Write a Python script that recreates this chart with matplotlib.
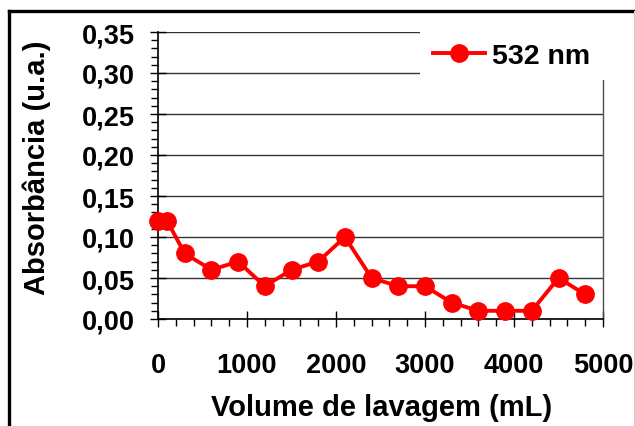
import matplotlib
matplotlib.use("Agg")
import matplotlib.pyplot as plt
from matplotlib.patches import Rectangle
from matplotlib.lines import Line2D
from matplotlib.ticker import MultipleLocator, FuncFormatter

volume = [0, 100, 300, 600, 900, 1200, 1500, 1800, 2100, 2400, 2700, 3000,
          3300, 3600, 3900, 4200, 4500, 4800]
absorb = [0.12, 0.12, 0.08, 0.06, 0.07, 0.04, 0.06, 0.07, 0.10, 0.05, 0.04,
          0.04, 0.02, 0.01, 0.01, 0.01, 0.05, 0.03]
series_label = "532 nm"
xlabel = "Volume de lavagem (mL)"
ylabel = "Absorbância (u.a.)"

plt.rcParams['font.family'] = ['Liberation Sans', 'DejaVu Sans']
plt.rcParams['font.weight'] = 'bold'

fig = plt.figure(figsize=(6.35, 4.27), dpi=100)
ax = fig.add_axes([158/635, 107/427, 445/635, 287/427])

ax.plot(volume, absorb, color='#ff0000', lw=2.8, marker='o', ms=12.5,
        label=series_label, zorder=3, clip_on=False)

ax.set_xlim(0, 5000)
ax.set_ylim(0, 0.35)
ax.xaxis.set_major_locator(MultipleLocator(1000))
ax.xaxis.set_minor_locator(MultipleLocator(200))
ax.yaxis.set_major_locator(MultipleLocator(0.05))
ax.yaxis.set_minor_locator(MultipleLocator(0.01))
ax.yaxis.set_major_formatter(FuncFormatter(lambda v, p: f"{v:.2f}".replace('.', ',')))

ax.tick_params(axis='both', which='major', direction='inout', length=12, width=1,
               labelsize=19.5, color='black')
ax.tick_params(axis='both', which='minor', direction='out', length=5, width=1,
               color='black')
ax.tick_params(axis='x', which='major', pad=18)
ax.tick_params(axis='y', which='major', pad=10.5)

ax.grid(axis='y', which='major', color='0.2', lw=1.0)
ax.set_axisbelow(True)
ax.spines['top'].set_visible(False)
for s in ['left', 'bottom']:
    ax.spines[s].set_linewidth(1.2)
ax.spines['right'].set_color('0.3')
ax.spines['right'].set_linewidth(1.0)

ax.set_xlabel(xlabel, fontsize=21, fontweight='bold')
ax.set_ylabel(ylabel, fontsize=21, fontweight='bold')
ax.xaxis.set_label_coords(0.503, -0.258)
ax.yaxis.set_label_coords(-0.24, 0.53)

# white area behind legend
ax.add_patch(Rectangle((0.589, 0.833), 0.43, 0.2, transform=ax.transAxes,
                       facecolor='white', edgecolor='none', clip_on=False, zorder=4))
leg = ax.legend(loc='center left', bbox_to_anchor=(0.618, 0.916), frameon=False,
                prop={'size': 20.5, 'weight': 'bold'}, handlelength=1.83,
                handletextpad=0.25, borderpad=0, borderaxespad=0)
leg.set_zorder(5)

# figure frame: thick black left/top, thin grey right
top_y = 1 - 11.5/427
left_x = 8.5/635
fig.add_artist(Line2D([left_x, left_x], [0, top_y], color='black', lw=2.4,
                      transform=fig.transFigure, solid_capstyle='projecting'))
fig.add_artist(Line2D([left_x, 1], [top_y, top_y], color='black', lw=2.4,
                      transform=fig.transFigure, solid_capstyle='projecting'))
fig.add_artist(Line2D([634/635, 634/635], [0, top_y], color='0.8', lw=0.8,
                      transform=fig.transFigure))

fig.savefig("out.png", dpi=100)
